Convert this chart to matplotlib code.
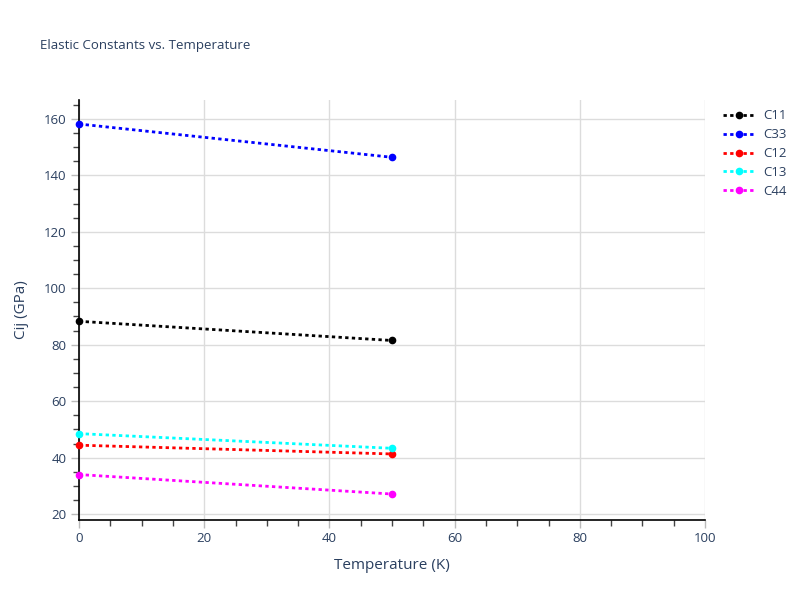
import matplotlib
matplotlib.use("Agg")
import matplotlib.pyplot as plt
from matplotlib.ticker import MultipleLocator
from matplotlib.lines import Line2D

plt.rcParams['font.family'] = ['Open Sans', 'DejaVu Sans']

temperature = [0, 50]
series_names = ["C11", "C33", "C12", "C13", "C44"]
C11 = [88.3, 81.5]
C33 = [158.2, 146.4]
C12 = [44.4, 41.3]
C13 = [48.5, 43.3]
C44 = [34.0, 27.1]
values = [C11, C33, C12, C13, C44]
colors = ["black", "blue", "red", "cyan", "magenta"]

txt = "#2a3f5f"
dash = (0, (1.2, 1.2))
fig = plt.figure(figsize=(8, 6), dpi=100)
ax = fig.add_axes([79/800, 1-520/600, (705-79)/800, (520-100)/600])

for name, v, c in zip(series_names, values, colors):
    ax.plot(temperature, v, color=c, linestyle=dash, linewidth=2,
            marker='o', markersize=4.5, label=name, zorder=3, clip_on=False)

ax.set_xlim(0, 100)
ax.set_ylim(17.9, 166.7)
ax.xaxis.set_major_locator(MultipleLocator(20))
ax.xaxis.set_minor_locator(MultipleLocator(5))
ax.yaxis.set_major_locator(MultipleLocator(20))
ax.yaxis.set_minor_locator(MultipleLocator(5))
ax.grid(True, which='major', color='#dcdcdc', linewidth=1, zorder=0)
ax.set_axisbelow(True)
for s in ['top', 'right']:
    ax.spines[s].set_visible(False)
for s in ['left', 'bottom']:
    ax.spines[s].set_color('black')
    ax.spines[s].set_linewidth(1.2)
ax.tick_params(which='major', length=6, width=1, color='#bbbbbb', labelcolor=txt, labelsize=9.5, pad=3)
ax.tick_params(which='minor', length=4, width=1, color='#444444')
ax.set_xlabel("Temperature (K)", fontsize=11, color=txt, labelpad=9)
ax.set_ylabel("Cij (GPa)", fontsize=11, color=txt, labelpad=11)
fig.text(40/800, 1-45/600, "Elastic Constants vs. Temperature", fontsize=9.5, color=txt, va='center', ha='left')

handles = [Line2D([0], [0], color=c, linestyle=dash, linewidth=2, marker='o', markersize=4.5)
           for c in colors]
leg = ax.legend(handles, series_names, loc='upper left', bbox_to_anchor=(718/800, 1-104/600),
                bbox_transform=fig.transFigure, frameon=False, fontsize=9.5, labelcolor=txt,
                handlelength=2.4, labelspacing=0.45, handletextpad=0.6, borderaxespad=0)

fig.savefig("out.png", dpi=100, facecolor='white')
